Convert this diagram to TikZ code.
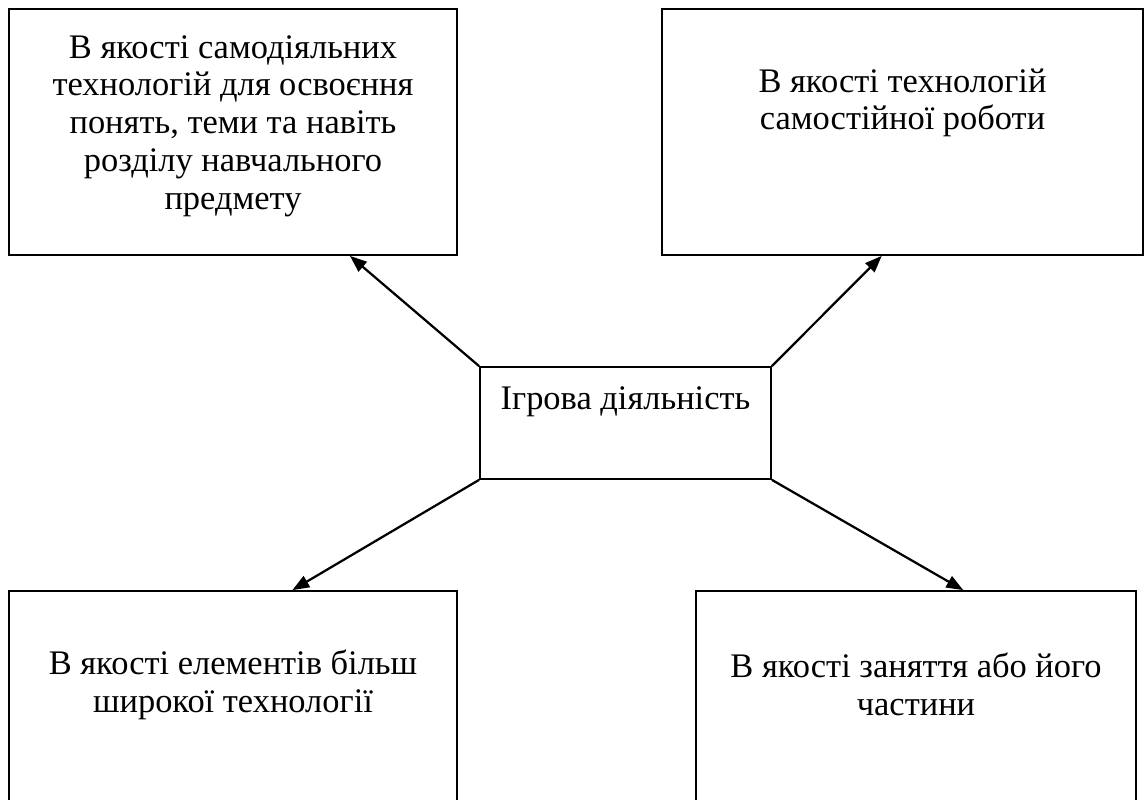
\documentclass[tikz,border=0pt]{standalone}
\usepackage{fontspec}
\setmainfont{Liberation Serif}
\usetikzlibrary{arrows.meta,calc}
\tikzset{
  flow/.style={-{Triangle[length=12pt,width=9pt]},line width=1.6pt},
  box/.style={draw,line width=1.2pt,inner sep=0pt},
  boxtext/.style={align=center,inner sep=0pt,font=\fontsize{24.5}{26.8}\selectfont},
}
\begin{document}
\begin{tikzpicture}[x=.025cm,y=-.025cm]
    \useasboundingbox (0,0) rectangle (1145,800);
    % Four outer boxes round the centre one (bottom pair runs off the page).
    \node[box,minimum width=11.2cm,minimum height=6.15cm]   (tl)  at (233,132)   {};
    \node[box,minimum width=12.025cm,minimum height=6.15cm] (tr)  at (902.5,132) {};
    \node[box,minimum width=7.275cm,minimum height=2.8cm]   (mid) at (625.5,423) {};
    \node[box,minimum width=11.2cm,minimum height=5.35cm]   (bl)  at (233,698)   {};
    \node[box,minimum width=11cm,minimum height=5.35cm]     (br)  at (916,698)   {};

    \node[boxtext] (tltext)  at (233,126)   {В якості самодіяльних\\технологій для освоєння\\понять, теми та навіть\\розділу навчального\\предмету};
    \node[boxtext] (trtext)  at (902.5,103) {В якості технологій\\самостійної роботи};
    \node[boxtext] (midtext) at (625.5,402) {Ігрова діяльність};
    \node[boxtext] (bltext)  at (233,684.5) {В якості елементів більш\\широкої технології};
    \node[boxtext] (brtext)  at (916,684.5) {В якості заняття або його\\частини};

    \draw[flow] (mid.north west) -- ($(tl.south west)!.76!(tl.south east)$);
    \draw[flow] (mid.north east) -- ($(tr.south west)!.457!(tr.south east)$);
    \draw[flow] (mid.south west) -- ($(bl.north west)!.632!(bl.north east)$);
    \draw[flow] (mid.south east) -- ($(br.north west)!.607!(br.north east)$);
\end{tikzpicture}
\end{document}
